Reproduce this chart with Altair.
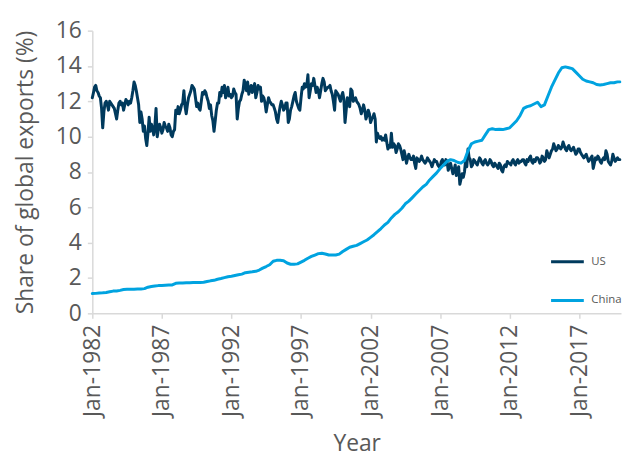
import altair as alt
import pandas as pd

# US share of global exports (%), monthly Jan-1982 .. Dec-2019 (one row per year)
us_share = [
    12.2, 12.5, 12.8, 12.9, 12.6, 12.5, 12.3, 12.2, 11.6, 10.5, 11.4, 11.9,  # 1982
    12.0, 11.8, 11.5, 12.0, 11.9, 11.8, 11.7, 11.6, 11.3, 11.0, 11.5, 11.9,  # 1983
    12.0, 11.8, 11.9, 11.5, 11.8, 12.1, 12.0, 11.8, 12.0, 11.9, 12.2, 12.6,  # 1984
    13.1, 12.9, 12.6, 12.2, 11.8, 10.8, 11.4, 11.0, 10.3, 10.6, 9.9, 9.5,    # 1985
    10.2, 11.1, 10.3, 10.7, 10.5, 10.1, 10.6, 11.6, 10.0, 10.4, 10.7, 10.5,  # 1986
    10.2, 10.4, 10.8, 10.6, 10.5, 10.3, 10.7, 10.5, 10.1, 10.0, 10.3, 10.4,  # 1987
    11.5, 11.3, 11.7, 11.3, 11.5, 11.8, 11.9, 12.6, 11.7, 11.3, 11.8, 12.2,  # 1988
    12.4, 12.6, 12.9, 12.8, 12.7, 12.2, 11.7, 11.9, 11.6, 11.5, 12.0, 12.5,  # 1989
    12.4, 12.6, 12.5, 12.2, 12.0, 11.6, 11.8, 11.2, 10.9, 10.3, 10.9, 11.5,  # 1990
    11.9, 11.9, 12.5, 12.3, 12.8, 12.5, 12.9, 12.2, 12.4, 12.8, 12.3, 12.4,  # 1991
    12.2, 12.3, 12.7, 12.5, 12.4, 11.0, 11.6, 12.0, 12.1, 12.4, 12.6, 13.2,  # 1992
    12.9, 12.6, 13.1, 12.4, 12.7, 12.9, 12.5, 12.8, 13.0, 12.2, 12.5, 12.9,  # 1993
    12.7, 12.8, 12.0, 12.3, 12.2, 11.9, 11.4, 11.8, 12.2, 12.0, 11.9, 11.8,  # 1994
    11.8, 11.6, 11.4, 11.0, 10.8, 11.3, 11.7, 12.0, 11.8, 11.5, 11.6, 11.9,  # 1995
    11.9, 10.8, 11.0, 11.5, 11.7, 12.0, 12.3, 12.5, 12.0, 11.8, 11.6, 11.5,  # 1996
    12.2, 12.8, 12.7, 13.0, 12.8, 12.9, 13.5, 12.2, 12.6, 13.0, 12.9, 13.3,  # 1997
    12.9, 12.5, 12.8, 12.6, 12.2, 12.6, 13.0, 13.3, 13.1, 12.6, 12.7, 12.8,  # 1998
    12.8, 12.9, 12.6, 12.4, 12.0, 11.5, 12.6, 12.5, 12.4, 12.2, 12.0, 12.3,  # 1999
    12.5, 12.1, 10.8, 11.5, 12.2, 12.0, 11.7, 12.7, 12.6, 12.0, 12.1, 12.2,  # 2000
    12.0, 11.9, 11.8, 11.6, 11.3, 11.5, 11.8, 11.5, 11.0, 11.2, 11.5, 11.3,  # 2001
    10.8, 11.0, 11.1, 11.3, 11.0, 9.7, 10.2, 10.0, 9.9, 10.0, 9.8, 9.9,      # 2002
    9.8, 10.1, 9.7, 9.3, 9.5, 9.4, 10.2, 9.4, 9.6, 9.5, 9.1, 9.3,            # 2003
    9.6, 9.5, 9.3, 9.0, 8.7, 9.2, 8.9, 8.5, 8.8, 9.0, 8.8, 8.7,              # 2004
    8.7, 8.9, 8.5, 8.2, 8.8, 8.7, 8.6, 8.7, 8.9, 8.7, 8.6, 8.5,              # 2005
    8.6, 8.8, 8.7, 8.6, 8.5, 8.3, 8.5, 8.7, 8.6, 8.6, 8.4, 8.3,              # 2006
    8.3, 8.6, 8.7, 8.5, 8.4, 8.7, 8.6, 8.1, 8.3, 8.5, 8.2, 7.9,              # 2007
    8.1, 8.4, 7.8, 8.0, 8.3, 7.3, 7.6, 7.9, 7.7, 8.0, 8.7, 8.3,              # 2008
    9.3, 8.8, 8.7, 8.3, 8.4, 8.7, 8.6, 8.5, 8.4, 8.6, 8.8, 8.7,              # 2009
    8.5, 8.4, 8.6, 8.7, 8.5, 8.4, 8.5, 8.7, 8.6, 8.4, 8.3, 8.5,              # 2010
    8.4, 8.3, 8.2, 8.5, 8.4, 8.1, 8.0, 8.3, 8.4, 8.3, 8.6, 8.5,              # 2011
    8.5, 8.4, 8.6, 8.7, 8.5, 8.4, 8.6, 8.7, 8.5, 8.6, 8.6, 8.7,              # 2012
    8.7, 8.5, 8.4, 8.7, 8.6, 8.8, 8.9, 8.6, 8.5, 8.7, 8.6, 8.8,              # 2013
    8.8, 8.7, 8.5, 8.6, 8.9, 8.8, 8.6, 8.7, 9.2, 9.0, 8.8, 9.0,              # 2014
    9.2, 9.3, 9.6, 9.4, 9.2, 9.3, 9.5, 9.4, 9.3, 9.4, 9.7, 9.5,              # 2015
    9.3, 9.2, 9.4, 9.5, 9.3, 9.2, 9.3, 9.4, 9.2, 9.0, 9.1, 9.3,              # 2016
    9.3, 9.1, 9.0, 8.9, 8.8, 8.9, 9.0, 8.8, 8.6, 8.7, 8.8, 8.9,              # 2017
    8.2, 8.5, 8.8, 8.7, 8.9, 8.8, 8.6, 8.5, 8.7, 8.8, 8.7, 9.2,              # 2018
    9.0, 8.6, 8.5, 8.4, 8.6, 9.0, 8.8, 8.6, 8.7, 8.8, 8.7, 8.7,              # 2019
]

# China share of global exports (%), quarterly (Jan, Apr, Jul, Oct) 1982..2019
china_share = [
    1.12, 1.13, 1.15, 1.16,   # 1982
    1.18, 1.22, 1.26, 1.27,   # 1983
    1.30, 1.35, 1.36, 1.37,   # 1984
    1.37, 1.38, 1.38, 1.40,   # 1985
    1.48, 1.52, 1.55, 1.57,   # 1986
    1.58, 1.59, 1.60, 1.61,   # 1987
    1.70, 1.72, 1.72, 1.73,   # 1988
    1.73, 1.74, 1.74, 1.75,   # 1989
    1.76, 1.80, 1.84, 1.87,   # 1990
    1.93, 1.97, 2.02, 2.07,   # 1991
    2.10, 2.14, 2.18, 2.22,   # 1992
    2.30, 2.33, 2.35, 2.38,   # 1993
    2.45, 2.56, 2.65, 2.75,   # 1994
    2.95, 3.00, 3.00, 2.98,   # 1995
    2.85, 2.78, 2.78, 2.80,   # 1996
    2.90, 3.00, 3.12, 3.22,   # 1997
    3.30, 3.38, 3.40, 3.36,   # 1998
    3.30, 3.30, 3.30, 3.35,   # 1999
    3.50, 3.62, 3.74, 3.80,   # 2000
    3.85, 3.95, 4.05, 4.15,   # 2001
    4.30, 4.45, 4.62, 4.80,   # 2002
    5.00, 5.15, 5.40, 5.60,   # 2003
    5.75, 5.95, 6.20, 6.35,   # 2004
    6.55, 6.75, 6.95, 7.15,   # 2005
    7.30, 7.55, 7.75, 7.95,   # 2006
    8.20, 8.40, 8.60, 8.70,   # 2007
    8.65, 8.55, 8.50, 8.65,   # 2008
    9.20, 9.60, 9.70, 9.75,   # 2009
    9.80, 10.10, 10.40, 10.45,  # 2010
    10.40, 10.42, 10.40, 10.45,  # 2011
    10.50, 10.70, 10.90, 11.20,  # 2012
    11.60, 11.70, 11.75, 11.85,  # 2013
    11.95, 11.70, 11.80, 12.30,  # 2014
    12.80, 13.20, 13.60, 13.90,  # 2015
    13.95, 13.90, 13.85, 13.65,  # 2016
    13.45, 13.25, 13.15, 13.10,  # 2017
    13.05, 12.95, 12.92, 12.95,  # 2018
    13.00, 13.05, 13.05, 13.10,  # 2019
]
china_last = 13.10  # Dec-2019

series_names = ["US", "China"]
series_colors = ["#003a5d", "#00a3e0"]
tick_years = [1982, 1987, 1992, 1997, 2002, 2007, 2012, 2017]
y_ticks = [0, 2, 4, 6, 8, 10, 12, 14, 16]

us_dates = pd.date_range("1982-01-01", periods=len(us_share), freq="MS")
cn_dates = list(pd.date_range("1982-01-01", periods=len(china_share), freq="QS")) + [pd.Timestamp("2019-12-01")]

df = pd.concat([
    pd.DataFrame({"date": us_dates, "share": us_share, "series": "US", "order": 0}),
    pd.DataFrame({"date": cn_dates, "share": china_share + [china_last], "series": "China", "order": 1}),
], ignore_index=True)

FONT = "Open Sans"
TEXT = "#595959"
AXIS = "#d9d9d9"

chart = alt.Chart(df).mark_line(strokeWidth=3, strokeJoin="round", strokeCap="round").encode(
    x=alt.X(
        "date:T",
        title="Year",
        scale=alt.Scale(domain=[alt.DateTime(year=1982, month=1, date=1),
                                alt.DateTime(year=2020, month=1, date=1)], nice=False),
        axis=alt.Axis(
            values=[alt.DateTime(year=y, month=1, date=1) for y in tick_years],
            format="%b-%Y", labelAngle=270, grid=False,
            tickSize=5, labelPadding=6, titlePadding=16,
        ),
    ),
    y=alt.Y(
        "share:Q",
        title="Share of global exports (%)",
        scale=alt.Scale(domain=[0, 16], nice=False),
        axis=alt.Axis(values=y_ticks, grid=False, tickSize=5, labelPadding=6, titlePadding=18),
    ),
    color=alt.Color(
        "series:N",
        scale=alt.Scale(domain=series_names, range=series_colors),
        legend=alt.Legend(
            title=None, orient="none", legendX=461, legendY=215,
            symbolType="stroke", symbolSize=1089, symbolStrokeWidth=3,
            labelFont=FONT, labelFontSize=11.5, labelColor=TEXT, labelOffset=6,
            rowPadding=15, padding=0,
        ),
    ),
    order=alt.Order("order:Q"),
).properties(
    width=533, height=285,
    padding={"left": 6, "top": 10, "right": 0, "bottom": 0},
).configure_view(stroke=None).configure_axis(
    labelFont=FONT, titleFont=FONT, labelFontSize=23, titleFontSize=23,
    labelColor=TEXT, titleColor=TEXT, titleFontWeight="normal",
    domainColor=AXIS, tickColor=AXIS, domainWidth=1.5, tickWidth=1.5,
)

chart.save("out.html", embed_options={"renderer": "svg", "actions": False})
